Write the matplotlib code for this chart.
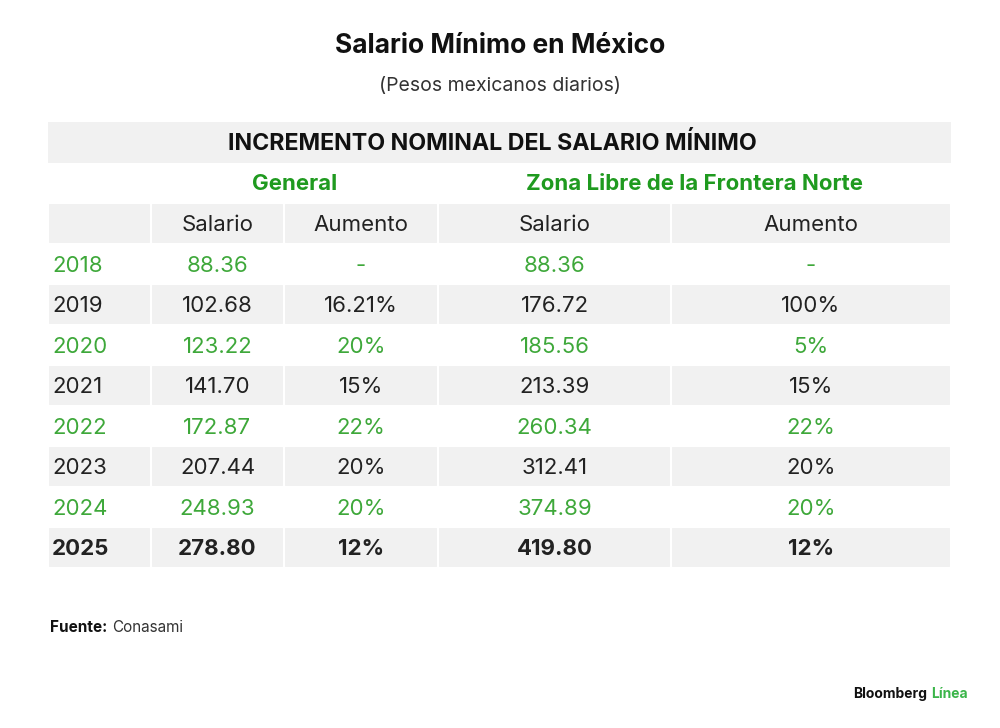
import matplotlib.pyplot as plt
from matplotlib.patches import Rectangle

plt.rcParams['font.family'] = ['Inter', 'DejaVu Sans']

# data
years = ['2018', '2019', '2020', '2021', '2022', '2023', '2024', '2025']
general_salario = ['88.36', '102.68', '123.22', '141.70', '172.87', '207.44', '248.93', '278.80']
general_aumento = ['-', '16.21%', '20%', '15%', '22%', '20%', '20%', '12%']
zona_salario = ['88.36', '176.72', '185.56', '213.39', '260.34', '312.41', '374.89', '419.80']
zona_aumento = ['-', '100%', '5%', '15%', '22%', '20%', '20%', '12%']
groups = ['General', 'Zona Libre de la Frontera Norte']
col_headers = ['', 'Salario', 'Aumento', 'Salario', 'Aumento']

GREEN = '#3ea83a'
DARK_GREEN = '#1f9a1f'
GRAY = '#f1f1f1'
TEXT = '#222222'

fig = plt.figure(figsize=(10, 7.28), dpi=100)
ax = fig.add_axes([0, 0, 1, 1])
ax.set_xlim(0, 1000)
ax.set_ylim(728, 0)
ax.axis('off')

# column edges (pixels)
col_x = [48, 151, 284, 438, 671, 951]
row_h = 40.5
top = 122
body = 16

def cell(x0, x1, y0, color):
    ax.add_patch(Rectangle((x0, y0), x1 - x0, row_h, facecolor=color, edgecolor='white', lw=1.5))

ax.text(500, 46, 'Salario Mínimo en México', ha='center', va='center',
        fontsize=19, fontweight='bold', color='#111111')
ax.text(500, 86, '(Pesos mexicanos diarios)', ha='center', va='center',
        fontsize=14, color='#333333')

# title row
ax.add_patch(Rectangle((col_x[0], top), col_x[-1] - col_x[0], row_h, facecolor=GRAY, edgecolor='none'))
ax.text(492, top + row_h / 2 + 1, 'INCREMENTO NOMINAL DEL SALARIO MÍNIMO', ha='center', va='center',
        fontsize=16.7, fontweight='bold', color='#111111')

# group row
y = top + row_h
ax.text((col_x[1] + col_x[3]) / 2, y + row_h / 2 + 1, groups[0], ha='center', va='center',
        fontsize=16, fontweight='bold', color=DARK_GREEN)
ax.text((col_x[3] + col_x[5]) / 2, y + row_h / 2 + 1, groups[1], ha='center', va='center',
        fontsize=16, fontweight='bold', color=DARK_GREEN)

# column header row
y = top + 2 * row_h
for i in range(5):
    cell(col_x[i], col_x[i + 1], y, GRAY)
    ax.text((col_x[i] + col_x[i + 1]) / 2, y + row_h / 2 + 2, col_headers[i], ha='center', va='center',
            fontsize=body, color=TEXT)

# data rows
for r, yr in enumerate(years):
    y = top + (3 + r) * row_h
    last = r == len(years) - 1
    green = r % 2 == 0
    bg = GRAY if r % 2 == 1 else 'white'
    for i in range(5):
        cell(col_x[i], col_x[i + 1], y, bg)
    color = GREEN if green else TEXT
    weight = 'bold' if last else 'normal'
    vals = [general_salario[r], general_aumento[r], zona_salario[r], zona_aumento[r]]
    ax.text(col_x[0] + 4, y + row_h / 2 + 2, yr, ha='left', va='center',
            fontsize=body, color=color, fontweight=weight)
    for i, v in enumerate(vals):
        ax.text((col_x[i + 1] + col_x[i + 2]) / 2, y + row_h / 2 + 2, v, ha='center', va='center',
                fontsize=body, color=color, fontweight=weight)

ax.text(50, 627, 'Fuente:', ha='left', va='center', fontsize=11, fontweight='bold', color='#111111')
ax.text(112, 627, 'Conasami', ha='left', va='center', fontsize=11, color='#333333')

ax.text(927, 694, 'Bloomberg', ha='right', va='center', fontsize=10, fontweight='bold', color='#111111')
ax.text(931, 694, 'Línea', ha='left', va='center', fontsize=10, fontweight='bold', color='#3bb54a')

fig.savefig('out.png', dpi=100, facecolor='white')
